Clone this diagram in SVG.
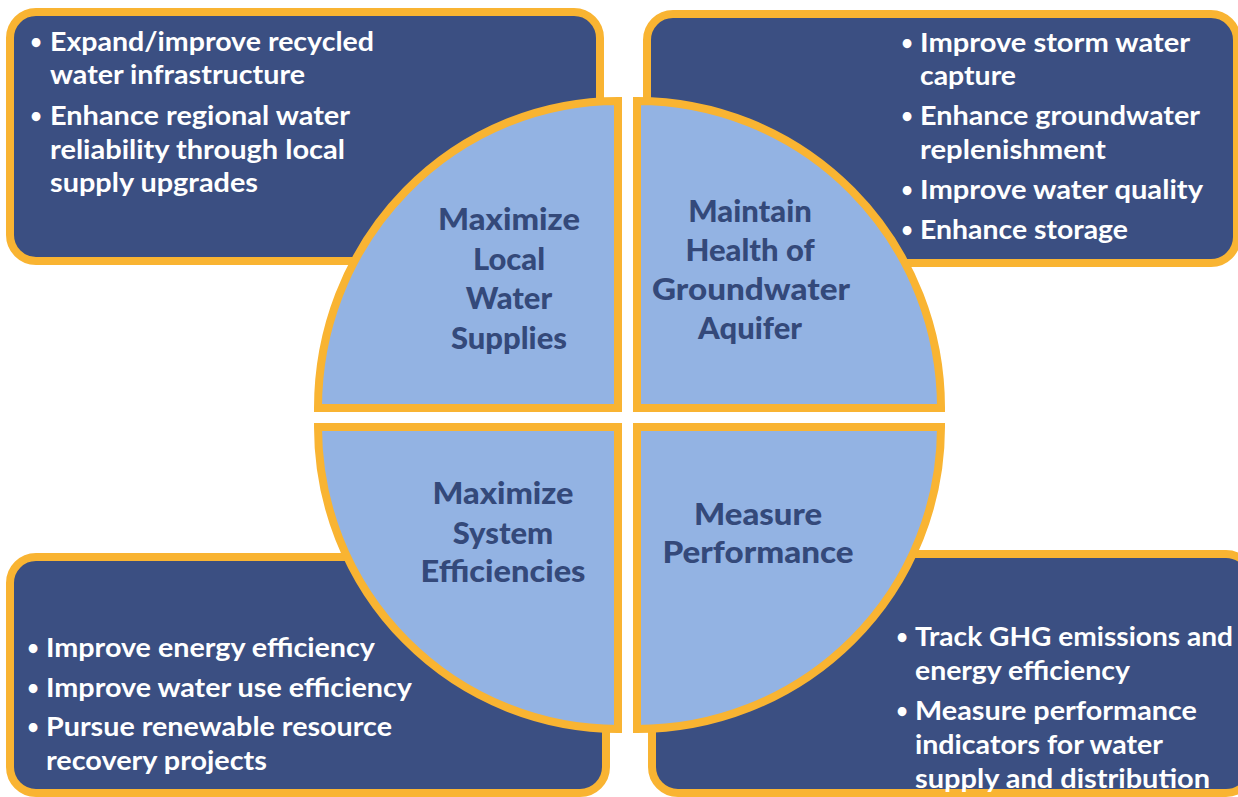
<svg xmlns="http://www.w3.org/2000/svg" width="1238" height="797" viewBox="0 0 1238 797">
  <style>
    .box { fill: #3b4f82; stroke: #f9b432; stroke-width: 8; }
    .quad { fill: #93b3e3; stroke: #f9b432; stroke-width: 8; stroke-linejoin: miter; }
    .item { font-family: "Lato", "Open Sans", sans-serif; font-weight: bold; font-size: 27px; fill: #ffffff; }
    .dot { font-family: "Lato", "Open Sans", sans-serif; font-weight: bold; font-size: 20px; fill: #ffffff; text-anchor: middle; }
    .label { font-family: "Lato", "Open Sans", sans-serif; font-weight: 900; font-size: 31px; fill: #34497a; text-anchor: middle; }
  </style>
  <rect width="1238" height="797" fill="#ffffff"/>

  <!-- outer action boxes -->
  <g id="box-local-supplies">
    <rect class="box" x="10" y="12" width="590" height="249" rx="26"/>
    <text class="dot" x="36" y="49">•</text>
    <text class="item" x="50" y="51" textLength="324" lengthAdjust="spacingAndGlyphs">Expand/improve recycled</text>
    <text class="item" x="50" y="84" textLength="255" lengthAdjust="spacingAndGlyphs">water infrastructure</text>
    <text class="dot" x="36" y="123">•</text>
    <text class="item" x="50" y="125" textLength="300" lengthAdjust="spacingAndGlyphs">Enhance regional water</text>
    <text class="item" x="50" y="159" textLength="295" lengthAdjust="spacingAndGlyphs">reliability through local</text>
    <text class="item" x="50" y="192" textLength="208" lengthAdjust="spacingAndGlyphs">supply upgrades</text>
  </g>

  <g id="box-groundwater">
    <rect class="box" x="647" y="14" width="590" height="249" rx="26"/>
    <text class="dot" x="907" y="50">•</text>
    <text class="item" x="920" y="52" textLength="270" lengthAdjust="spacingAndGlyphs">Improve storm water</text>
    <text class="item" x="920" y="85" textLength="96" lengthAdjust="spacingAndGlyphs">capture</text>
    <text class="dot" x="907" y="123">•</text>
    <text class="item" x="920" y="125" textLength="280" lengthAdjust="spacingAndGlyphs">Enhance groundwater</text>
    <text class="item" x="920" y="159" textLength="186" lengthAdjust="spacingAndGlyphs">replenishment</text>
    <text class="dot" x="907" y="197">•</text>
    <text class="item" x="920" y="199" textLength="283" lengthAdjust="spacingAndGlyphs">Improve water quality</text>
    <text class="dot" x="907" y="237">•</text>
    <text class="item" x="920" y="239" textLength="208" lengthAdjust="spacingAndGlyphs">Enhance storage</text>
  </g>

  <g id="box-efficiencies">
    <rect class="box" x="10" y="557" width="596" height="236" rx="26"/>
    <text class="dot" x="33" y="655">•</text>
    <text class="item" x="46" y="657" textLength="329" lengthAdjust="spacingAndGlyphs">Improve energy efficiency</text>
    <text class="dot" x="33" y="695">•</text>
    <text class="item" x="46" y="697" textLength="366" lengthAdjust="spacingAndGlyphs">Improve water use efficiency</text>
    <text class="dot" x="33" y="734">•</text>
    <text class="item" x="46" y="736" textLength="346" lengthAdjust="spacingAndGlyphs">Pursue renewable resource</text>
    <text class="item" x="46" y="770" textLength="221" lengthAdjust="spacingAndGlyphs">recovery projects</text>
  </g>

  <g id="box-performance">
    <rect class="box" x="652" y="554" width="600" height="239" rx="26"/>
    <text class="dot" x="902" y="644">•</text>
    <text class="item" x="915" y="646" textLength="318" lengthAdjust="spacingAndGlyphs">Track GHG emissions and</text>
    <text class="item" x="915" y="680" textLength="215" lengthAdjust="spacingAndGlyphs">energy efficiency</text>
    <text class="dot" x="902" y="718">•</text>
    <text class="item" x="915" y="720" textLength="282" lengthAdjust="spacingAndGlyphs">Measure performance</text>
    <text class="item" x="915" y="754" textLength="248" lengthAdjust="spacingAndGlyphs">indicators for water</text>
    <text class="item" x="915" y="788" textLength="295" lengthAdjust="spacingAndGlyphs">supply and distribution</text>
  </g>

  <!-- central circle split into four goal quadrants -->
  <g id="quad-local-supplies">
    <path class="quad" d="M618,408 L318,408 A300,307 0 0 1 618,101 Z"/>
    <text class="label" x="509" y="230" textLength="142" lengthAdjust="spacingAndGlyphs">Maximize</text>
    <text class="label" x="509" y="270">Local</text>
    <text class="label" x="509" y="309">Water</text>
    <text class="label" x="509" y="349">Supplies</text>
  </g>

  <g id="quad-groundwater">
    <path class="quad" d="M637,408 L637,101 A304,307 0 0 1 941,408 Z"/>
    <text class="label" x="750" y="222">Maintain</text>
    <text class="label" x="750" y="261">Health of</text>
    <text class="label" x="751" y="300" textLength="198" lengthAdjust="spacingAndGlyphs">Groundwater</text>
    <text class="label" x="750" y="339">Aquifer</text>
  </g>

  <g id="quad-efficiencies">
    <path class="quad" d="M618,427 L618,729 A300,302 0 0 1 318,427 Z"/>
    <text class="label" x="503" y="504" textLength="141" lengthAdjust="spacingAndGlyphs">Maximize</text>
    <text class="label" x="503" y="544">System</text>
    <text class="label" x="503" y="582" textLength="165" lengthAdjust="spacingAndGlyphs">Efficiencies</text>
  </g>

  <g id="quad-performance">
    <path class="quad" d="M637,427 L941,427 A304,302 0 0 1 637,729 Z"/>
    <text class="label" x="758" y="525" textLength="128" lengthAdjust="spacingAndGlyphs">Measure</text>
    <text class="label" x="758" y="563" textLength="191" lengthAdjust="spacingAndGlyphs">Performance</text>
  </g>

  <!-- no connectors: goals are joined by layout only -->
  <g id="connectors"/>
</svg>
